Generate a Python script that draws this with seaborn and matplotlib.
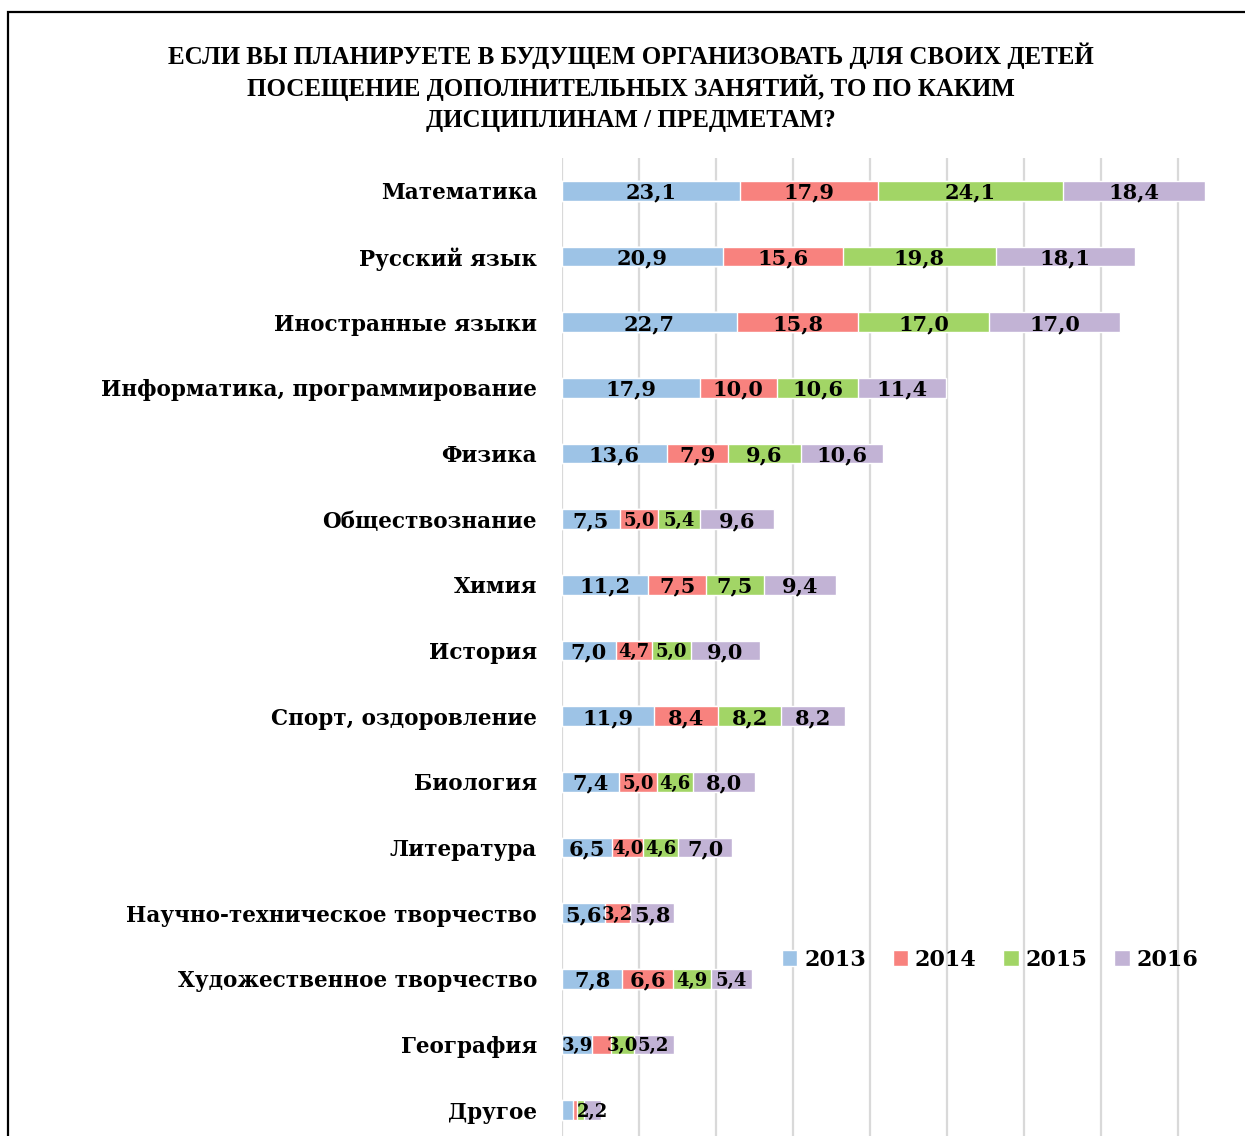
import numpy as np
import pandas as pd
import matplotlib
matplotlib.use("Agg")
import matplotlib.pyplot as plt
from matplotlib.patches import Rectangle
import seaborn as sns

# ---- data ----
categories = [
    "Математика", "Русский язык", "Иностранные языки",
    "Информатика, программирование", "Физика", "Обществознание",
    "Химия", "История", "Спорт, оздоровление", "Биология",
    "Литература", "Научно-техническое творчество",
    "Художественное творчество", "География", "Другое",
]
years = ["2013", "2014", "2015", "2016"]
v2013 = [23.1, 20.9, 22.7, 17.9, 13.6, 7.5, 11.2, 7.0, 11.9, 7.4, 6.5, 5.6, 7.8, 3.9, 1.4]
v2014 = [17.9, 15.6, 15.8, 10.0, 7.9, 5.0, 7.5, 4.7, 8.4, 5.0, 4.0, 3.2, 6.6, 2.4, 0.5]
v2015 = [24.1, 19.8, 17.0, 10.6, 9.6, 5.4, 7.5, 5.0, 8.2, 4.6, 4.6, 0.0, 4.9, 3.0, 0.9]
v2016 = [18.4, 18.1, 17.0, 11.4, 10.6, 9.6, 9.4, 9.0, 8.2, 8.0, 7.0, 5.8, 5.4, 5.2, 2.2]
colors = ["#9DC3E6", "#F8827E", "#A2D566", "#C2B3D5"]
title_lines = [
    "ЕСЛИ ВЫ ПЛАНИРУЕТЕ В БУДУЩЕМ ОРГАНИЗОВАТЬ ДЛЯ СВОИХ ДЕТЕЙ",
    "ПОСЕЩЕНИЕ ДОПОЛНИТЕЛЬНЫХ ЗАНЯТИЙ, ТО ПО КАКИМ",
    "ДИСЦИПЛИНАМ / ПРЕДМЕТАМ?",
]

series = [v2013, v2014, v2015, v2016]
df = pd.DataFrame({y: s for y, s in zip(years, series)}, index=categories)
cum = df.cumsum(axis=1)

sns.set_style("white")
serif = ["DejaVu Serif", "Liberation Serif"]
plt.rcParams["font.family"] = serif
plt.rcParams["font.weight"] = "bold"
plt.rcParams["text.color"] = "black"
plt.rcParams["ytick.color"] = "black"

W, H = 1245, 1136
fig = plt.figure(figsize=(W / 100, H / 100), dpi=100)

# outer frame (chart is cropped on right/bottom)
fig.patches.append(Rectangle((8 / W, -0.05), 1.2, (H - 12) / H + 0.05,
                             transform=fig.transFigure, fill=False,
                             edgecolor="black", linewidth=1.6))

px_per_unit = 7.7
left = 562
xmax = 88
ax = fig.add_axes([left / W, (H - 1143) / H,
                   xmax * px_per_unit / W, (1143 - 158) / H])

# stacked bars: draw cumulative totals from the largest down
for i in range(len(years) - 1, -1, -1):
    sns.barplot(x=cum[years[i]].values, y=categories, orient="h",
                color=colors[i], width=0.3, saturation=1, ax=ax,
                label=years[i], zorder=2)

# data labels (narrow segments get a slightly smaller font)
for r, cat in enumerate(categories):
    start = 0.0
    for i, y in enumerate(years):
        val = df.loc[cat, y]
        last = i == len(years) - 1
        if val >= 3 or (last and val > 0):
            fs = 15 if val >= 5.5 else 13
            ax.text(start + val / 2, r + 0.03, f"{val:.1f}".replace(".", ","),
                    ha="center", va="center", fontsize=fs,
                    fontweight="bold", color="black", zorder=3)
        start += val

ax.set_xlim(0, xmax)
ax.set_xticks(np.arange(0, 81, 10))
ax.set_xticklabels([])
ax.grid(axis="x", color="#D9D9D9", linewidth=1.6, zorder=0)
ax.set_axisbelow(True)
for s in ax.spines.values():
    s.set_visible(False)
ax.tick_params(axis="y", length=0, pad=18, labelsize=15.5, labelcolor="black")
ax.tick_params(axis="x", length=0)
for t in ax.get_yticklabels():
    t.set_fontweight("bold")
ax.set_xlabel("")
ax.set_ylabel("")

# legend in natural order
handles, labels = ax.get_legend_handles_labels()
order = [labels.index(y) for y in years]
leg = ax.legend([handles[k] for k in order], years, ncol=4, frameon=False,
                loc="center", bbox_to_anchor=((990 - left) / (xmax * px_per_unit),
                                              (1143 - 960) / (1143 - 158)),
                prop={"family": serif, "weight": "bold", "size": 16},
                handlelength=0.7, handleheight=0.7, handletextpad=0.3,
                columnspacing=1.2)
for t in leg.get_texts():
    t.set_color("black")

for line, ypx in zip(title_lines, [56, 88, 120]):
    fig.text(631 / W, (H - ypx) / H, line, ha="center", va="center",
             fontsize=18, fontweight="bold", color="black",
             family=["Liberation Serif", "DejaVu Serif"])

fig.savefig("out.png", dpi=100, facecolor="white")
